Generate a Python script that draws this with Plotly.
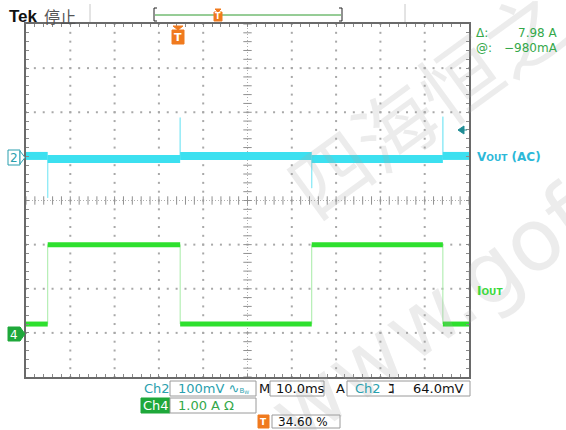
import plotly.graph_objects as go

time_edges_ms = [0.0, 4.9, 34.8, 64.5, 94.1, 100.0]      # load-step edges, screen 0..100 ms
iout_levels_A = [0.2, 2.0, 0.2, 2.0, 0.2]                 # Ch4 current level per interval
vout_levels_mV = [3, -4, 3, -4, 3]                        # Ch2 (AC) level per interval
vout_spike_times_ms = [4.9, 34.8, 64.5, 94.1]
vout_spike_mV = [-92, 90, -70, 92]                        # transient peaks at each edge

ch2_scale_mV = 100.0   # mV/div
ch2_pos_div = 0.98
ch4_scale_A = 1.0      # A/div
ch4_pos_div = -3.0

status_row1 = ["Ch2", "100mV", "M", "10.0ms", "A", "Ch2", "64.0mV"]
status_row2 = ["Ch4", "1.00 A \u03a9"]
trigger_pos_text = "34.60 %"
cursor_delta = "7.98 A"
cursor_at = "\u2212980mA"

# ---------------- geometry helpers ----------------
W, H = 566, 430
L, R, T, B = 26, 469, 24, 377


def P(xp, yp):
    return (xp - L) / (R - L), (B - yp) / (B - T)


def v2div(mv):
    return ch2_pos_div + mv / ch2_scale_mV


def i2div(a):
    return ch4_pos_div + a / ch4_scale_A


fig = go.Figure()

# ---------------- graticule ----------------
minor_x = [i * 2.0 for i in range(51)]
minor_y = [-4 + i * 0.2 for i in range(41)]
gx, gy = [], []
for k in range(1, 10):
    if k == 5:
        continue
    for yv in minor_y:
        gx.append(k * 10.0)
        gy.append(yv)
for k in range(-3, 4):
    if k == 0:
        continue
    for xv in minor_x:
        gx.append(xv)
        gy.append(float(k))
fig.add_trace(go.Scatter(x=gx, y=gy, mode="markers", hoverinfo="skip",
                         marker=dict(symbol="square", size=2, color="#a8a8a8", line=dict(width=0))))
# center cross
fig.add_trace(go.Scatter(x=[0, 100], y=[0, 0], mode="lines", hoverinfo="skip",
                         line=dict(color="#b0b0b0", width=1, dash="1px,2px")))
fig.add_trace(go.Scatter(x=[50, 50], y=[-4, 4], mode="lines", hoverinfo="skip",
                         line=dict(color="#b0b0b0", width=1, dash="1px,2px")))
fig.add_trace(go.Scatter(x=minor_x, y=[0] * len(minor_x), mode="markers", hoverinfo="skip",
                         marker=dict(symbol="line-ns", size=6, line=dict(color="#909090", width=1))))
fig.add_trace(go.Scatter(x=[50] * len(minor_y), y=minor_y, mode="markers", hoverinfo="skip",
                         marker=dict(symbol="line-ew", size=6, line=dict(color="#909090", width=1))))

# ---------------- Ch2 Vout (AC) ----------------
thin_x, thin_y = [], []
for i in range(len(vout_levels_mV)):
    t0, t1 = time_edges_ms[i], time_edges_ms[i + 1]
    thin_x += [t0, t1]
    thin_y += [v2div(vout_levels_mV[i]), v2div(vout_levels_mV[i])]
    if i < len(vout_spike_mV):
        thin_x += [vout_spike_times_ms[i]]
        thin_y += [v2div(vout_spike_mV[i])]
fig.add_trace(go.Scatter(x=thin_x, y=thin_y, mode="lines", hoverinfo="skip",
                         line=dict(color="#8feaf6", width=1)))
bx, by = [], []
for i in range(len(vout_levels_mV)):
    bx += [time_edges_ms[i], time_edges_ms[i + 1], None]
    by += [v2div(vout_levels_mV[i]), v2div(vout_levels_mV[i]), None]
fig.add_trace(go.Scatter(x=bx, y=by, mode="lines", hoverinfo="skip",
                         line=dict(color="#3ce0f0", width=8)))

# ---------------- Ch4 Iout ----------------
ix, iy = [], []
for i in range(len(iout_levels_A)):
    ix += [time_edges_ms[i], time_edges_ms[i + 1]]
    iy += [i2div(iout_levels_A[i]), i2div(iout_levels_A[i])]
fig.add_trace(go.Scatter(x=ix, y=iy, mode="lines", hoverinfo="skip",
                         line=dict(color="#a6eba6", width=1)))
bx, by = [], []
for i in range(len(iout_levels_A)):
    bx += [time_edges_ms[i], time_edges_ms[i + 1], None]
    by += [i2div(iout_levels_A[i]), i2div(iout_levels_A[i]), None]
fig.add_trace(go.Scatter(x=bx, y=by, mode="lines", hoverinfo="skip",
                         line=dict(color="#2ee02e", width=5)))

# ---------------- shapes & annotations ----------------
shapes = []
anns = []
ORANGE = "#f07a1e"
TEAL = "#2a9fae"
CYAN_T = "#2cb8d8"
GREEN = "#34a84a"
FONT = "DejaVu Sans"


def rect(x0, y0, x1, y1, fill="white", line="#9a9a9a", lw=1):
    a = P(x0, y0)
    b = P(x1, y1)
    shapes.append(dict(type="rect", xref="paper", yref="paper", x0=a[0], y0=b[1], x1=b[0], y1=a[1],
                       fillcolor=fill, line=dict(color=line, width=lw), layer="above"))


def path(pts, fill, line=None):
    s = ""
    for j, (xp, yp) in enumerate(pts):
        px, py = P(xp, yp)
        s += ("M" if j == 0 else "L") + f"{px:.5f},{py:.5f}"
    s += "Z"
    shapes.append(dict(type="path", xref="paper", yref="paper", path=s, fillcolor=fill,
                       line=dict(color=line or fill, width=1), layer="above"))


def line(x0, y0, x1, y1, color, w=1):
    a = P(x0, y0)
    b = P(x1, y1)
    shapes.append(dict(type="line", xref="paper", yref="paper", x0=a[0], y0=a[1], x1=b[0], y1=b[1],
                       line=dict(color=color, width=w), layer="above"))


def text(xp, yp, s, size=13, color="black", xanchor="left", family=FONT, angle=0):
    px, py = P(xp, yp)
    anns.append(dict(xref="paper", yref="paper", x=px, y=py, text=s, showarrow=False,
                     xanchor=xanchor, yanchor="middle", textangle=angle,
                     font=dict(size=size, color=color, family=family)))


# faint watermark (drawn first so the scope text sits on top)
text(425, 100, "四海恒之", 80, "rgba(170,170,170,0.22)", "center", family="Noto Sans CJK SC", angle=-36)
text(430, 315, "www.gof", 86, "rgba(170,170,170,0.22)", "center", family="DejaVu Sans", angle=-36)

# header
text(7, 16, "<b>Tek</b>", 17, "#111111", family="Liberation Sans")
text(42, 16, "停止", 16, "#555555", family="Noto Sans CJK SC")
line(90, 4, 90, 22, "#c8c8c8", 1)
line(405, 4, 405, 22, "#c8c8c8", 1)
line(154, 8, 154, 21, "#222222", 1)
line(154, 8, 157, 8, "#222222", 1)
line(154, 21, 157, 21, "#222222", 1)
line(342, 8, 342, 21, "#222222", 1)
line(339, 8, 342, 8, "#222222", 1)
line(339, 21, 342, 21, "#222222", 1)
line(155, 15, 341, 15, "#2e9a2e", 1)
# record-position trigger marker
path([(215, 9), (221, 9), (218, 12)], ORANGE)
rect(214, 12, 222, 21, fill=ORANGE, line=ORANGE)
text(218, 16.5, "<b>T</b>", 8, "white", "center")
# trigger marker inside graticule
path([(173, 26), (183, 26), (178, 30)], ORANGE)
rect(172, 30, 184, 44, fill=ORANGE, line=ORANGE)
text(178, 37.5, "<b>T</b>", 11, "white", "center")

# cursor readout
text(474, 33, "\u0394:", 12, GREEN)
text(560, 33, cursor_delta, 12, GREEN, "right")
text(474, 48, "@:", 12, GREEN)
text(560, 48, cursor_at, 12, GREEN, "right")

# ch2 trigger level arrow at right
path([(458, 130), (464, 126), (464, 134)], "#1f8c95")
line(464, 130, 467, 130, "#1f8c95", 1)

# channel reference markers
rect(8, 150, 20, 165, fill="white", line=TEAL)
path([(20, 151), (25, 157.5), (20, 164)], "white", TEAL)
text(14, 158, "2", 12, TEAL, "center")
rect(8, 327, 20, 341, fill="#1ea83a", line="#1ea83a")
path([(20, 327), (25, 334), (20, 341)], "#1ea83a")
text(14, 334.5, "4", 12, "white", "center")

# trace labels
text(475, 157, "<b>V<span style='font-size:9px'>OUT</span> (AC)</b>", 12, CYAN_T)
text(475, 291, "<b>I<span style='font-size:9px'>OUT</span></b>", 12, "#3cd83c")

# status rows
text(142, 388, status_row1[0], 13, TEAL)
rect(170, 381, 256, 396)
text(176, 388, status_row1[1] + " \u223f<span style='font-size:7px'>B<sub>W</sub></span>", 13, TEAL)
text(257, 388, status_row1[2], 13, "#111111")
rect(270, 381, 324, 396)
text(274, 388, status_row1[3], 13, "#111111")
text(334, 388, status_row1[4], 13, "#111111")
rect(347, 381, 470, 396)
text(353, 388, status_row1[5], 13, TEAL)
text(386, 388, "<b>\u2137</b>", 13, "#111111")
text(466, 388, status_row1[6], 13, "#111111", "right")

rect(141, 398, 170, 413, fill="#1ea83a", line="#1ea83a")
text(155.5, 405.5, status_row2[0], 13, "white", "center")
rect(170, 398, 256, 413)
text(176, 405.5, status_row2[1], 13, GREEN)

rect(258, 415, 269, 428, fill=ORANGE, line=ORANGE)
text(263.5, 421.5, "<b>T</b>", 9, "white", "center")
rect(272, 415, 340, 428)
text(276, 421.5, trigger_pos_text, 12, "#111111")

fig.update_layout(
    width=W, height=H,
    margin=dict(l=L, r=W - R, t=T, b=H - B, pad=0),
    paper_bgcolor="white", plot_bgcolor="white",
    showlegend=False,
    shapes=shapes, annotations=anns,
    xaxis=dict(range=[0, 100], showgrid=False, zeroline=False, showticklabels=False,
               showline=True, linecolor="#6a6a6a", linewidth=2, mirror="ticks",
               ticks="inside", tick0=0, dtick=2, ticklen=3, tickcolor="#8a8a8a", tickwidth=1,
               fixedrange=True),
    yaxis=dict(range=[-4, 4], showgrid=False, zeroline=False, showticklabels=False,
               showline=True, linecolor="#6a6a6a", linewidth=2, mirror="ticks",
               ticks="inside", tick0=-4, dtick=0.2, ticklen=3, tickcolor="#8a8a8a", tickwidth=1,
               fixedrange=True),
)

fig.write_html("out.html", config={"displayModeBar": False},
               post_script="document.body.style.margin='0';document.body.style.overflow='hidden';")
